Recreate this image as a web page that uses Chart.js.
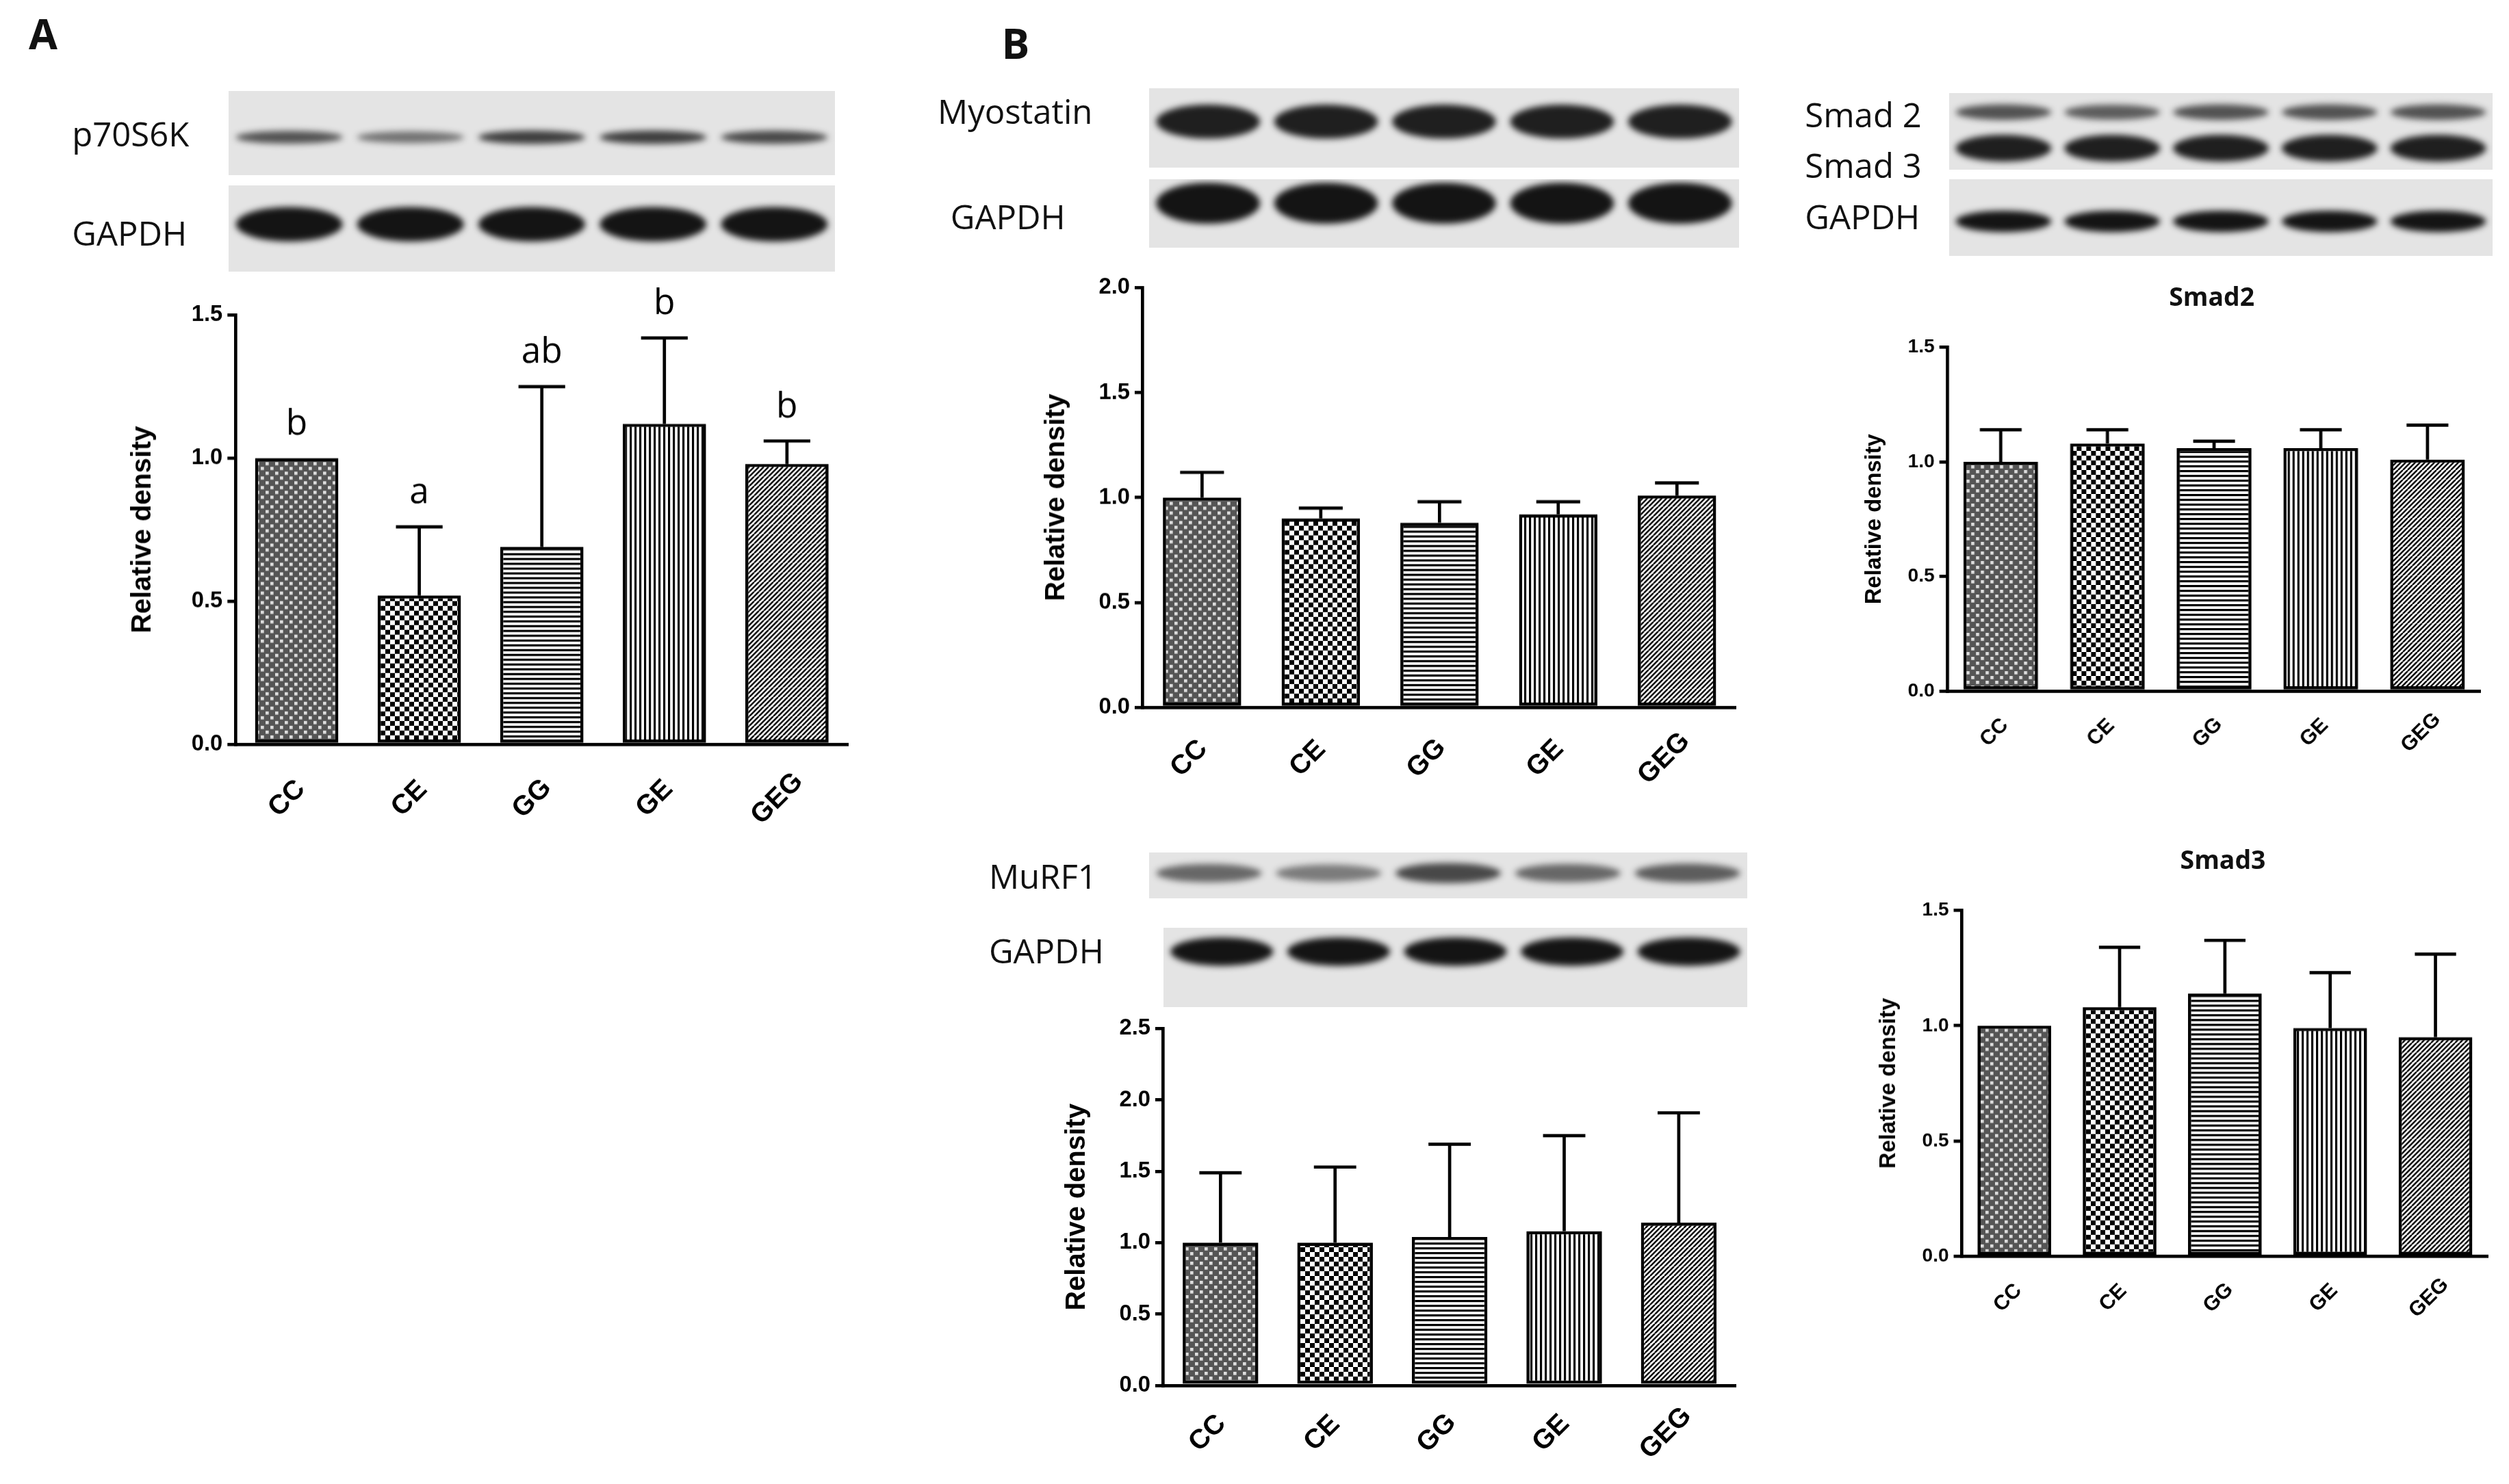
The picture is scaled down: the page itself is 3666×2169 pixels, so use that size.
<!DOCTYPE html>
<html><head><meta charset="utf-8">
<script src="https://cdn.jsdelivr.net/npm/chart.js@4.4.1/dist/chart.umd.min.js"></script>
<style>
html,body{margin:0;padding:0;background:#fff;width:3666px;height:2169px;overflow:hidden;font-family:"Liberation Sans",Arial,sans-serif}
.abs{position:absolute}
.lbl{position:absolute;font-family:"Open Sans","Noto Sans",sans-serif;color:#111;white-space:nowrap}
</style></head><body>
<script>
const S = 3666/1568;
const groups = ["CC","CE","GG","GE","GEG"];
const p70Values = [1.00,0.52,0.69,1.12,0.98];
const p70Errors = [1.00,0.76,1.25,1.42,1.06];
const p70Letters = ["b","a","ab","b","b"];
const myoValues = [1.00,0.90,0.88,0.92,1.01];
const myoErrors = [1.12,0.95,0.98,0.98,1.07];
const murfValues = [1.00,1.00,1.04,1.08,1.14];
const murfErrors = [1.49,1.53,1.69,1.75,1.91];
const smad2Values = [1.00,1.08,1.06,1.06,1.01];
const smad2Errors = [1.14,1.14,1.09,1.14,1.16];
const smad3Values = [1.00,1.08,1.14,0.99,0.95];
const smad3Errors = [1.00,1.34,1.37,1.23,1.31];

function el(tag,cls,css,txt){const e=document.createElement(tag);if(cls)e.className=cls;Object.assign(e.style,css);if(txt!==undefined)e.textContent=txt;document.body.appendChild(e);return e;}
function label(txt,x,y,size,bold){el('div','lbl',{left:x*S+'px',top:y*S+'px',fontSize:size*S+'px',fontWeight:bold?'bold':'normal',lineHeight:'1'},txt);}

function blot(x,y,w,h,bands){
  const c=el('canvas','abs',{left:x*S+'px',top:y*S+'px'});
  c.width=w*S;c.height=h*S;const g=c.getContext('2d');
  g.fillStyle='#e4e4e4';g.fillRect(0,0,c.width,c.height);
  const n=5, lw=c.width/n;
  g.filter='blur('+(2*S)+'px)';
  bands.forEach(b=>{
    for(let i=0;i<n;i++){
      const a=b.int[i];
      g.fillStyle='rgba(20,20,20,'+a+')';
      g.beginPath();
      g.ellipse(lw*(i+0.5),b.y*c.height,lw*0.44,b.t*c.height*(0.5+0.5*a),0,0,Math.PI*2);
      g.fill();
    }
  });
}
blot(143,57,379,53,[{y:0.55,t:0.09,int:[0.7,0.55,0.8,0.8,0.75]}]);
blot(143,116,379,54,[{y:0.45,t:0.2,int:[1,1,1,1,1]}]);
blot(718,55,369,50,[{y:0.42,t:0.22,int:[0.95,0.95,0.95,0.95,0.95]}]);
blot(718,112,369,43,[{y:0.35,t:0.3,int:[1,1,1,1,1]}]);
blot(1218,58,340,48,[{y:0.25,t:0.12,int:[0.7,0.65,0.7,0.7,0.7]},{y:0.72,t:0.18,int:[0.95,0.95,0.95,0.95,0.95]}]);
blot(1218,112,340,48,[{y:0.55,t:0.14,int:[1,1,1,1,1]}]);
blot(718,533,374,29,[{y:0.45,t:0.25,int:[0.6,0.5,0.75,0.6,0.65]}]);
blot(727,580,365,50,[{y:0.3,t:0.18,int:[1,1,1,1,1]}]);

label('A',18,8,26,true); label('B',626,14,26,true);
label('p70S6K',45,73,21); label('GAPDH',45,135,21);
label('Myostatin',586,59,21); label('GAPDH',594,125,21);
label('Smad 2',1128,61,21); label('Smad 3',1128,93,21); label('GAPDH',1128,125,21);
label('MuRF1',618,537,21); label('GAPDH',618,584,21);

function pattern(type){
  const c=document.createElement('canvas');
  const z=Math.round(3*S); c.width=c.height=z*2; const g=c.getContext('2d');
  g.fillStyle='#fff';g.fillRect(0,0,z*2,z*2);g.fillStyle='#000';g.strokeStyle='#000';
  if(type==='CC'){g.fillStyle='#555';g.fillRect(0,0,z*2,z*2);g.fillStyle='#ddd';g.fillRect(0,0,z/1.5,z/1.5);g.fillRect(z,z,z/1.5,z/1.5);}
  if(type==='CE'){g.fillRect(0,0,z,z);g.fillRect(z,z,z,z);}
  if(type==='GG'){g.fillRect(0,0,z*2,Math.max(2,z*0.45));g.fillRect(0,z,z*2,Math.max(2,z*0.45));}
  if(type==='GE'){g.fillRect(0,0,Math.max(2,z*0.45),z*2);g.fillRect(z,0,Math.max(2,z*0.45),z*2);}
  if(type==='GEG'){g.lineWidth=Math.max(2,z*0.35);g.beginPath();for(let k=-2;k<=2;k++){g.moveTo(k*z,z*2);g.lineTo(k*z+z*2,0);}g.stroke();}
  return document.createElement('canvas').getContext('2d').createPattern(c,'repeat');
}
const pats=groups.map(pattern);

function chart(o){
  const yW=o.yW*S, top=25*S, xH=o.xH*S, right=8*S;
  const c=el('canvas','abs',{});
  const wrap=el('div','abs',{left:(o.x*S-yW)+'px',top:(o.y*S-top)+'px',width:(o.w*S+yW+right)+'px',height:(o.h*S+top+xH)+'px'});
  wrap.appendChild(c);
  const fs=o.fs*S, lw=2*S;
  new Chart(c,{type:'bar',
    data:{labels:groups,datasets:[{data:o.vals,backgroundColor:pats,borderColor:'#000',borderWidth:lw,borderSkipped:false,barPercentage:o.bp,categoryPercentage:1}]},
    options:{responsive:true,maintainAspectRatio:false,animation:false,devicePixelRatio:1,
      layout:{padding:{top:top,right:right,left:0,bottom:0}},
      plugins:{legend:{display:false},tooltip:{enabled:false},title:{display:false}},
      scales:{
        x:{grid:{display:false},border:{color:'#000',width:lw},ticks:{display:false},afterFit:s=>{s.height=xH;}},
        y:{min:0,max:o.max,ticks:{stepSize:o.step,color:'#000',font:{size:fs,weight:'bold',family:'Liberation Sans'},callback:v=>v.toFixed(1),padding:3*S},
           grid:{display:true,drawOnChartArea:false,drawTicks:true,tickLength:5*S,color:'#000',lineWidth:lw},border:{color:'#000',width:lw},
           title:{display:true,text:'Relative density',color:'#000',font:{size:o.tfs*S,weight:'bold',family:'Liberation Sans'},padding:0},
           afterFit:s=>{s.width=yW;}}
      }},
    plugins:[{id:'extra',afterDatasetsDraw(ch){
      const g=ch.ctx, ys=ch.scales.y, meta=ch.getDatasetMeta(0);
      g.save();g.strokeStyle='#000';g.lineWidth=lw;g.fillStyle='#000';
      meta.data.forEach((b,i)=>{
        const yTop=ys.getPixelForValue(o.vals[i]), yE=ys.getPixelForValue(o.errs[i]), cw=b.width*0.28;
        if(o.errs[i]>o.vals[i]){g.beginPath();g.moveTo(b.x,yTop);g.lineTo(b.x,yE);g.moveTo(b.x-cw,yE);g.lineTo(b.x+cw,yE);g.stroke();}
        if(o.letters){g.font=(22*S)+'px "Open Sans"';g.textAlign='center';g.textBaseline='bottom';g.fillText(o.letters[i],b.x,yE-10*S);}
        g.save();g.translate(b.x+o.lx*S,ch.chartArea.bottom+o.ly*S);g.rotate(-Math.PI/4);
        g.font='bold '+(o.xfs*S)+'px "Liberation Sans"';g.textAlign='center';g.textBaseline='middle';g.fillText(groups[i],0,0);g.restore();
      });
      g.restore();}}]
  });
  if(o.title) label(o.title,o.x+o.w/2-28,o.y-40,16,true);
}
chart({x:147,y:197,w:383,h:268,max:1.5,step:0.5,vals:p70Values,errs:p70Errors,letters:p70Letters,bp:0.68,yW:68,xH:70,fs:14,tfs:17,xfs:17,lx:-6,ly:34});
chart({x:714,y:180,w:371,h:262,max:2.0,step:0.5,vals:myoValues,errs:myoErrors,bp:0.66,yW:64,xH:70,fs:14,tfs:17,xfs:17,lx:-8,ly:32});
chart({x:727,y:643,w:358,h:223,max:2.5,step:0.5,vals:murfValues,errs:murfErrors,bp:0.66,yW:64,xH:70,fs:14,tfs:17,xfs:17,lx:-8,ly:30});
chart({x:1217,y:217,w:333,h:215,max:1.5,step:0.5,vals:smad2Values,errs:smad2Errors,bp:0.7,yW:54,xH:60,fs:12,tfs:14,xfs:13,lx:-4,ly:26,title:'Smad2'});
chart({x:1226,y:569,w:329,h:216,max:1.5,step:0.5,vals:smad3Values,errs:smad3Errors,bp:0.7,yW:54,xH:60,fs:12,tfs:14,xfs:13,lx:-4,ly:26,title:'Smad3'});
</script>
</body></html>
